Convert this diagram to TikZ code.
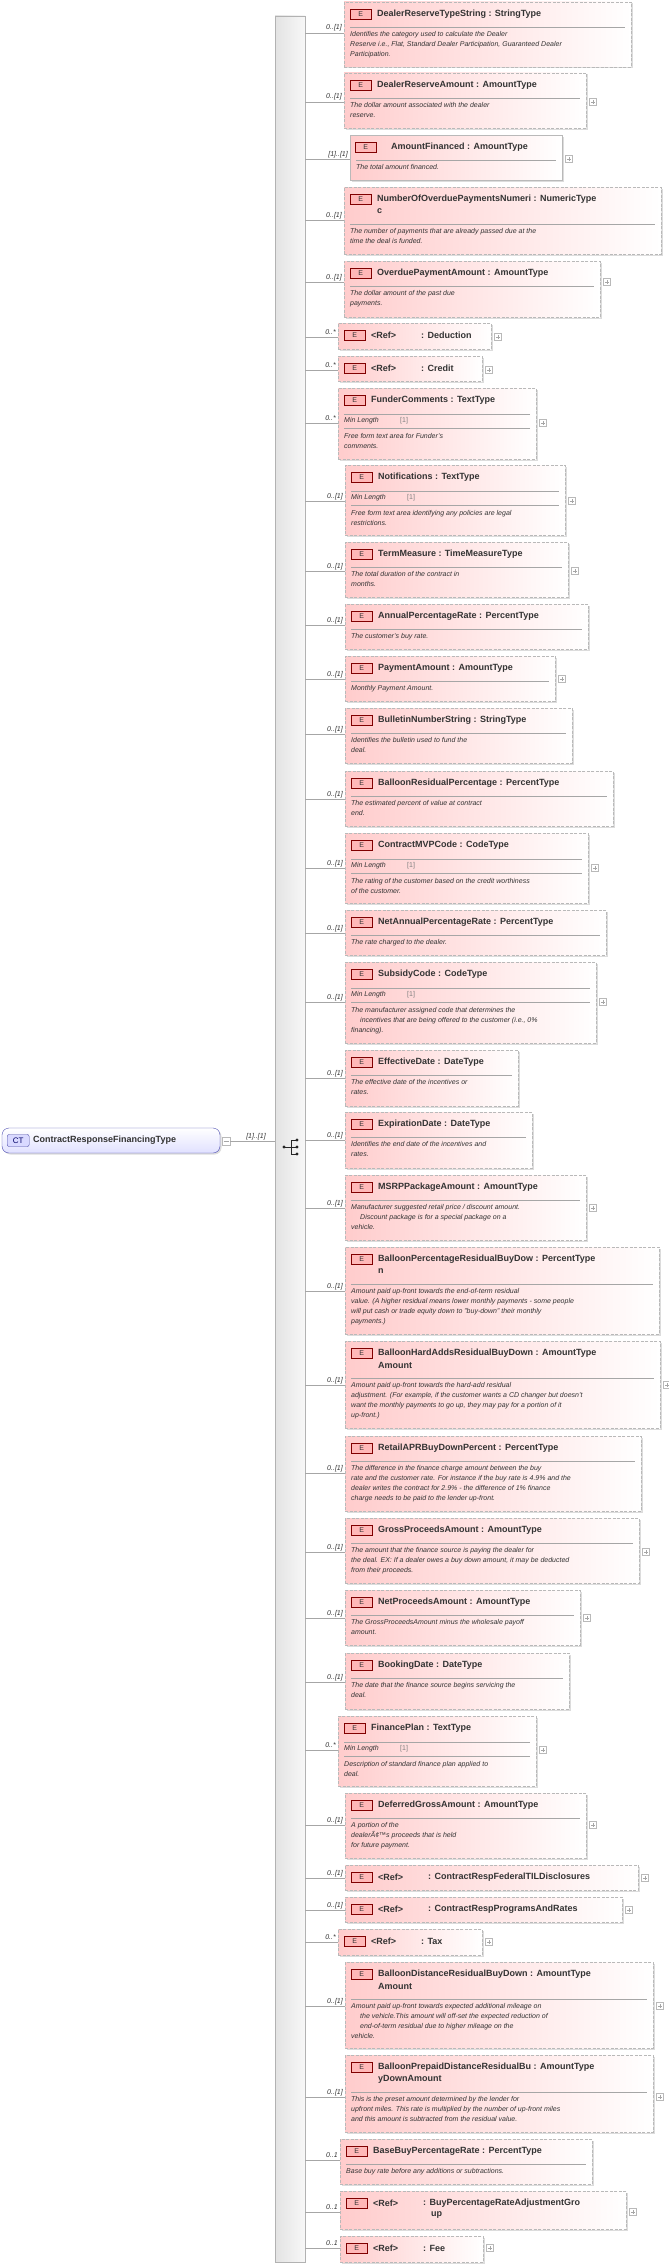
\documentclass[tikz,border=0pt]{standalone}
\usepackage{fontspec}
\setmainfont{Liberation Sans}
\usetikzlibrary{fit,shadows}
\definecolor{tx}{HTML}{333333}
\tikzset{
 eb/.style={draw=gray!55, dash pattern=on 3pt off 1.5pt, line width=0.7pt, left color=red!20, right color=white, inner sep=0pt, drop shadow={shadow xshift=1.5pt, shadow yshift=-1.5pt, fill=gray!45, opacity=0.6}},
 ebs/.style={eb, solid},
 badge/.style={draw=red!50!black, fill=red!28, minimum width=21pt, minimum height=10pt, inner sep=0pt, font=\fontsize{7}{8}\selectfont, text=tx},
 ttl/.style={inner sep=0pt, font=\fontsize{9}{11}\selectfont\bfseries, text=tx},
 dsc/.style={inner sep=0pt, align=left, font=\fontsize{7}{10}\selectfont\itshape, text=tx},
 mlen/.style={inner sep=0pt, font=\fontsize{7}{8}\selectfont\itshape, text=tx},
 mval/.style={inner sep=0pt, font=\fontsize{7}{8}\selectfont, text=gray},
 mult/.style={inner sep=0pt, font=\fontsize{7}{8}\selectfont\itshape, text=tx},
 sepl/.style={draw=gray!70, line width=0.5pt},
 conn/.style={draw=gray!70, line width=0.6pt},
 plusb/.style={draw=gray!55, fill=white, minimum size=7pt, inner sep=0pt, xshift=3pt, anchor=west,
   path picture={\draw[gray!70] ([xshift=1.5pt]path picture bounding box.west) -- ([xshift=-1.5pt]path picture bounding box.east);
   \draw[gray!70] ([yshift=-1.5pt]path picture bounding box.north) -- ([yshift=1.5pt]path picture bounding box.south);}},
}
\newcommand\xEl[8]{%
 \node[#8, fit={(#2,#3)(#4,#5)}] (#1) {};
 \coordinate (#1c) at (#2,#6);
 \draw[conn] (bar.east |- #1c) -- (#1c);
 \node[mult, anchor=base east] at (#2-2,#6-3) {#7};}
\newcommand\xBadge[2]{\node[badge, anchor=north west] at (#1+6,#2+7) {E};}
\newcommand\xStd[5]{%
 \xBadge{#1}{#2}
 \node[ttl, anchor=west] at (#1+33,#2+12) {#4};
 \draw[sepl] (#1+6,#2+25) -- (#3-6,#2+25);
 \node[dsc, anchor=north west] at (#1+6,#2+29) {#5};}
\newcommand\xTwo[6]{%
 \xBadge{#1}{#2}
 \node[ttl, anchor=west] at (#1+33,#2+12) {#4};
 \node[ttl, anchor=west] at (#1+33,#2+24) {#5};
 \draw[sepl] (#1+6,#2+37) -- (#3-6,#2+37);
 \node[dsc, anchor=north west] at (#1+6,#2+41) {#6};}
\newcommand\xMn[5]{%
 \xBadge{#1}{#2}
 \node[ttl, anchor=west] at (#1+33,#2+12) {#4};
 \draw[sepl] (#1+6,#2+26) -- (#3-6,#2+26);
 \node[mlen, anchor=west] at (#1+6,#2+33) {Min Length};
 \node[mval, anchor=west] at (#1+62,#2+33) {[1]};
 \draw[sepl] (#1+6,#2+40) -- (#3-6,#2+40);
 \node[dsc, anchor=north west] at (#1+6,#2+45) {#5};}
\newcommand\xRf[4]{%
 \xBadge{#1}{#2}
 \node[ttl, anchor=west] at (#1+33,#2+12) {<Ref>};
 \node[ttl, anchor=west] at (#1+83,#2+12) {: #3};
 \node[ttl, anchor=west] at (#1+91,#2+24) {#4};}
\newcommand\xPl[1]{\node[plusb] at (#1.east |- #1c) {};}
\begin{document}
\begin{tikzpicture}[x=1pt,y=-1pt]
\useasboundingbox[fill=white] (0,0) rectangle (669,2267);
% bar
\node[draw=gray!60, left color=gray!22, right color=gray!6, inner sep=0pt, fit={(275,16)(305,2262)}] (bar) {};
% CT node
\node[draw=gray!60!blue, rounded corners=7pt, top color=white, bottom color=blue!12, inner sep=0pt, fit={(2,1128)(220,1153)}, drop shadow={shadow xshift=1.5pt, shadow yshift=-1.5pt, fill=gray!45, opacity=0.6}] (ct) {};
\node[draw=blue!50!black!70, rounded corners=2pt, fill=blue!15, minimum width=22pt, minimum height=12pt, inner sep=0pt, font=\fontsize{8}{9}\selectfont, text=blue!40!black, anchor=west] (ctb) at (7,1140.5) {CT};
\node[ttl, anchor=west] (ctt) at (33,1140.5) {ContractResponseFinancingType};
\node[draw=gray!55, fill=white, minimum size=8pt, inner sep=0pt, anchor=west, path picture={\draw[gray!70] ([xshift=1.5pt]path picture bounding box.west) -- ([xshift=-1.5pt]path picture bounding box.east);}] (ctm) at (222,1141) {};
\draw[conn] (ctm.east) -- (bar.west |- ctm);
\node[mult, anchor=base] at (256,1138) {[1]..[1]};
% sequence icon
\fill[gray!30!black] (284,1147) circle (1.6pt);
\draw[gray!30!black, line width=0.7pt] (284,1147) -- (291,1147) (291,1140) -- (291,1154) (291,1140) -- (297,1140) (291,1147) -- (297,1147) (291,1154) -- (297,1154);
\foreach \yy in {1140,1147,1154} \fill[gray!30!black] (297,\yy) circle (1.6pt);
% elements
\xEl{e1}{344}{2}{631}{67}{33}{0..[1]}{eb}
\xStd{344}{2}{631}{DealerReserveTypeString : StringType}{Identifies the category used to calculate the Dealer\\Reserve i.e., Flat, Standard Dealer Participation, Guaranteed Dealer\\Participation.}
\xEl{e2}{344}{73}{586}{128}{102}{0..[1]}{eb}
\xStd{344}{73}{586}{DealerReserveAmount : AmountType}{The dollar amount associated with the dealer\\reserve.}\xPl{e2}
\xEl{e3}{350}{135}{562}{180}{159}{[1]..[1]}{ebs}
\node[badge, anchor=north west] at (355,142) {E};
\node[ttl, anchor=west] at (391,147) {AmountFinanced : AmountType};
\draw[sepl] (356,160) -- (556,160);
\node[dsc, anchor=north west] at (356,164) {The total amount financed.};\xPl{e3}
\xEl{e4}{344}{187}{661}{254}{220}{0..[1]}{eb}
\xTwo{344}{187}{661}{NumberOfOverduePaymentsNumeri : NumericType}{c}{The number of payments that are already passed due at the\\time the deal is funded.}
\xEl{e5}{344}{261}{600}{317}{282}{0..[1]}{eb}
\xStd{344}{261}{600}{OverduePaymentAmount : AmountType}{The dollar amount of the past due\\payments.}\xPl{e5}
\xEl{e6}{338}{323}{491}{349}{337}{0..*}{eb}
\xRf{338}{323}{Deduction}{}\xPl{e6}
\xEl{e7}{338}{356}{482}{381}{370}{0..*}{eb}
\xRf{338}{356}{Credit}{}\xPl{e7}
\xEl{e8}{338}{388}{536}{459}{423}{0..*}{eb}
\xMn{338}{388}{536}{FunderComments : TextType}{Free form text area for Funder's\\comments.}\xPl{e8}
\xEl{e9}{345}{465}{565}{535}{501}{0..[1]}{eb}
\xMn{345}{465}{565}{Notifications : TextType}{Free form text area identifying any policies are legal\\restrictions.}\xPl{e9}
\xEl{e10}{345}{542}{568}{597}{571}{0..[1]}{eb}
\xStd{345}{542}{568}{TermMeasure : TimeMeasureType}{The total duration of the contract in\\months.}\xPl{e10}
\xEl{e11}{345}{604}{588}{649}{625}{0..[1]}{eb}
\xStd{345}{604}{588}{AnnualPercentageRate : PercentType}{The customer's buy rate.}
\xEl{e12}{345}{656}{555}{701}{679}{0..[1]}{eb}
\xStd{345}{656}{555}{PaymentAmount : AmountType}{Monthly Payment Amount.}\xPl{e12}
\xEl{e13}{345}{708}{572}{763}{734}{0..[1]}{eb}
\xStd{345}{708}{572}{BulletinNumberString : StringType}{Identifies the bulletin used to fund the\\deal.}
\xEl{e14}{345}{771}{613}{826}{799}{0..[1]}{eb}
\xStd{345}{771}{613}{BalloonResidualPercentage : PercentType}{The estimated percent of value at contract\\end.}
\xEl{e15}{345}{833}{588}{903}{868}{0..[1]}{eb}
\xMn{345}{833}{588}{ContractMVPCode : CodeType}{The rating of the customer based on the credit worthiness\\of the customer.}\xPl{e15}
\xEl{e16}{345}{910}{606}{955}{933}{0..[1]}{eb}
\xStd{345}{910}{606}{NetAnnualPercentageRate : PercentType}{The rate charged to the dealer.}
\xEl{e17}{345}{962}{596}{1043}{1002}{0..[1]}{eb}
\xMn{345}{962}{596}{SubsidyCode : CodeType}{The manufacturer assigned code that determines the\\\hspace*{9pt}incentives that are being offered to the customer (i.e., 0\%\\financing).}\xPl{e17}
\xEl{e18}{345}{1050}{518}{1106}{1078}{0..[1]}{eb}
\xStd{345}{1050}{518}{EffectiveDate : DateType}{The effective date of the incentives or\\rates.}
\xEl{e19}{345}{1112}{532}{1168}{1140}{0..[1]}{eb}
\xStd{345}{1112}{532}{ExpirationDate : DateType}{Identifies the end date of the incentives and\\rates.}
\xEl{e20}{345}{1175}{586}{1240}{1208}{0..[1]}{eb}
\xStd{345}{1175}{586}{MSRPPackageAmount : AmountType}{Manufacturer suggested retail price / discount amount.\\\hspace*{9pt}Discount package is for a special package on a\\vehicle.}\xPl{e20}
\xEl{e21}{345}{1247}{659}{1334}{1291}{0..[1]}{eb}
\xTwo{345}{1247}{659}{BalloonPercentageResidualBuyDow : PercentType}{n}{Amount paid up-front towards the end-of-term residual\\value. (A higher residual means lower monthly payments - some people\\will put cash or trade equity down to "buy-down" their monthly\\payments.)}
\xEl{e22}{345}{1341}{660}{1428}{1385}{0..[1]}{eb}
\xTwo{345}{1341}{660}{BalloonHardAddsResidualBuyDown : AmountType}{Amount}{Amount paid up-front towards the hard-add residual\\adjustment. (For example, if the customer wants a CD changer but doesn't\\want the monthly payments to go up, they may pay for a portion of it\\up-front.)}\xPl{e22}
\xEl{e23}{345}{1436}{641}{1511}{1473}{0..[1]}{eb}
\xStd{345}{1436}{641}{RetailAPRBuyDownPercent : PercentType}{The difference in the finance charge amount between the buy\\rate and the customer rate. For instance if the buy rate is 4.9\% and the\\dealer writes the contract for 2.9\% - the difference of 1\% finance\\charge needs to be paid to the lender up-front.}
\xEl{e24}{345}{1518}{639}{1583}{1552}{0..[1]}{eb}
\xStd{345}{1518}{639}{GrossProceedsAmount : AmountType}{The amount that the finance source is paying the dealer for\\the deal. EX: If a dealer owes a buy down amount, it may be deducted\\from their proceeds.}\xPl{e24}
\xEl{e25}{345}{1590}{580}{1645}{1618}{0..[1]}{eb}
\xStd{345}{1590}{580}{NetProceedsAmount : AmountType}{The GrossProceedsAmount minus the wholesale payoff\\amount.}\xPl{e25}
\xEl{e26}{345}{1653}{569}{1709}{1682}{0..[1]}{eb}
\xStd{345}{1653}{569}{BookingDate : DateType}{The date that the finance source begins servicing the\\deal.}
\xEl{e27}{338}{1716}{536}{1786}{1750}{0..*}{eb}
\xMn{338}{1716}{536}{FinancePlan : TextType}{Description of standard finance plan applied to\\deal.}\xPl{e27}
\xEl{e28}{345}{1793}{586}{1858}{1825}{0..[1]}{eb}
\xStd{345}{1793}{586}{DeferredGrossAmount : AmountType}{A portion of the\\dealerÃ¢™s proceeds that is held\\for future payment.}\xPl{e28}
\xEl{e29}{345}{1865}{638}{1890}{1878}{0..[1]}{eb}
\xRf{345}{1865}{ContractRespFederalTILDisclosures}{}\xPl{e29}
\xEl{e30}{345}{1897}{622}{1922}{1910}{0..[1]}{eb}
\xRf{345}{1897}{ContractRespProgramsAndRates}{}\xPl{e30}
\xEl{e31}{338}{1929}{482}{1955}{1942}{0..*}{eb}
\xRf{338}{1929}{Tax}{}\xPl{e31}
\xEl{e32}{345}{1962}{653}{2048}{2006}{0..[1]}{eb}
\xTwo{345}{1962}{653}{BalloonDistanceResidualBuyDown : AmountType}{Amount}{Amount paid up-front towards expected additional mileage on\\\hspace*{9pt}the vehicle.This amount will off-set the expected reduction of\\\hspace*{9pt}end-of-term residual due to higher mileage on the\\vehicle.}\xPl{e32}
\xEl{e33}{345}{2055}{653}{2132}{2097}{0..[1]}{eb}
\xTwo{345}{2055}{653}{BalloonPrepaidDistanceResidualBu : AmountType}{yDownAmount}{This is the preset amount determined by the lender for\\upfront miles. This rate is multiplied by the number of up-front miles\\and this amount is subtracted from the residual value.}\xPl{e33}
\xEl{e34}{340}{2139}{592}{2184}{2160}{0..1}{eb}
\xStd{340}{2139}{592}{BaseBuyPercentageRate : PercentType}{Base buy rate before any additions or subtractions.}
\xEl{e35}{340}{2191}{626}{2229}{2212}{0..1}{eb}
\xRf{340}{2191}{BuyPercentageRateAdjustmentGro}{up}\xPl{e35}
\xEl{e36}{340}{2236}{483}{2262}{2248}{0..1}{eb}
\xRf{340}{2236}{Fee}{}\xPl{e36}
\end{tikzpicture}
\end{document}
